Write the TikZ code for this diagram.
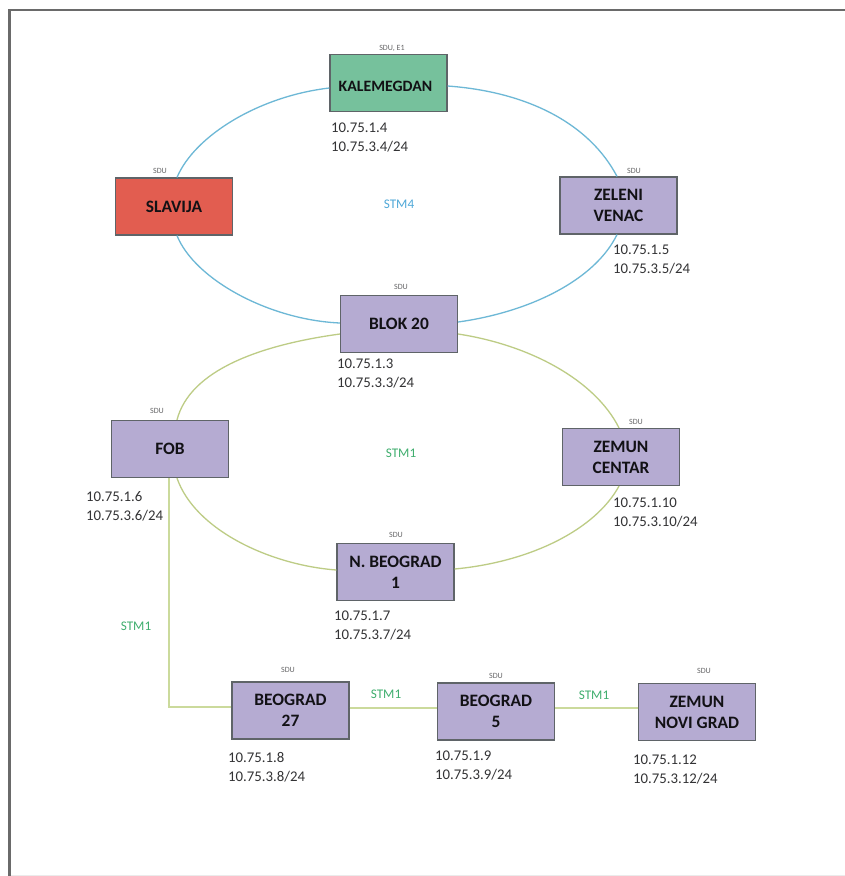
\documentclass[tikz,border=0pt]{standalone}
\usepackage{fontspec}
\setmainfont{Carlito}
\definecolor{purp}{HTML}{B5ABD2}
\definecolor{grn}{HTML}{76C19C}
\definecolor{rd}{HTML}{E25D50}
\definecolor{edgeg}{HTML}{5F6468}
\definecolor{ringb}{HTML}{6DB8D6}
\definecolor{ringg}{HTML}{BDCC85}
\definecolor{lineg}{HTML}{CBDA9C}
\definecolor{lblb}{HTML}{4FA8D8}
\definecolor{lblg}{HTML}{3FAE6E}
\definecolor{txt}{HTML}{333335}
\definecolor{frameg}{HTML}{6A6A6A}
\tikzset{
 x=1pt,y=-1pt,
 site/.style={draw=edgeg,line width=1.2pt,minimum width=117pt,minimum height=57pt,inner sep=0pt,align=center,font=\fontsize{17.4}{21}\selectfont\bfseries,text=black!90!purp},
 lowered/.style={execute at begin node={\rule{0pt}{17pt}}},
 vio/.style={site,fill=purp},
 sdu/.style={font=\fontsize{8}{9}\selectfont,text=txt!75},
 ip/.style={font=\fontsize{14.8}{19}\selectfont,text=txt,align=left,anchor=north west,inner sep=0pt},
 stm/.style={font=\fontsize{13.2}{15}\selectfont},
 blue ring/.style={draw=ringb,line width=1.3pt},
 green ring/.style={draw=ringg,line width=1.3pt},
 green line/.style={draw=lineg,line width=1.6pt},
}
\begin{document}
\begin{tikzpicture}
\useasboundingbox (0,0) rectangle (845,876);
\fill[white] (0,0) rectangle (845,876);
\draw[draw=black!8,line width=0.8pt] (9.5,875.5) -- (845,875.5);
\draw[draw=frameg,line width=2.4pt] (9.5,876) -- (9.5,10) -- (845,10);
% nodes
\node[site,fill=grn,font=\fontsize{15.8}{21}\selectfont\bfseries,execute at begin node={\rule{0pt}{16.5pt}}] (kal) at (388.5,83) {KALEMEGDAN\hspace*{6pt}};
\node[site,fill=rd] (sla) at (174,206.5) {SLAVIJA};
\node[vio,lowered] (zel) at (618.5,205.5) {ZELENI\\VENAC};
\node[vio] (blok) at (399,324) {BLOK 20};
\node[vio] (fob) at (170,449) {FOB};
\node[vio,lowered] (zc) at (621,457) {ZEMUN\\CENTAR};
\node[vio] (nb) at (395.5,572) {N. BEOGRAD\\1};
\node[vio,lowered] (b27) at (290.5,710.5) {BEOGRAD\\27\hspace*{0pt}};
\node[vio,lowered] (b5) at (496,711.5) {BEOGRAD\\5};
\node[vio,lowered] (zng) at (697,712) {ZEMUN\\NOVI GRAD};
\coordinate (corner) at (169,707);
% rings
\path[blue ring] (kal.west |- 0,88) .. controls (260,96) and (195,135) .. (sla.north -| 177,0);
\path[blue ring] (kal.east |- 0,86) .. controls (530,92) and (590,125) .. (zel.north -| 617,0);
\path[blue ring] (sla.south -| 177,0) .. controls (195,280) and (270,320) .. (blok.west |- 0,323);
\path[blue ring] (zel.south -| 617,0) .. controls (595,280) and (530,312) .. (blok.east |- 0,322);
\path[green ring] (blok.west |- 0,334) .. controls (260,345) and (190,370) .. (fob.north -| 177,0);
\path[green ring] (blok.east |- 0,334) .. controls (530,345) and (595,380) .. (zc.north -| 619,0);
\path[green ring] (fob.south -| 177,0) .. controls (195,530) and (270,565) .. (nb.west |- 0,570);
\path[green ring] (zc.south -| 619,0) .. controls (595,530) and (530,562) .. (nb.east |- 0,569);
\path[green line] (fob.south -| corner) -- (corner) -- (b27.west |- corner);
\path[green line] (b27.east |- 0,708) -- (b5.west |- 0,708);
\path[green line] (b5.east |- 0,708) -- (zng.west |- 0,708);
% sdu
\node[sdu] (s1) at (392,48) {SDU, E1};
\node[sdu] (s2) at (160,171) {SDU};
\node[sdu] (s3) at (634,171) {SDU};
\node[sdu] (s4) at (401,287) {SDU};
\node[sdu] (s5) at (157,411) {SDU};
\node[sdu] (s6) at (636,422) {SDU};
\node[sdu] (s7) at (396,535) {SDU};
\node[sdu] (s8) at (288,670) {SDU};
\node[sdu] (s9) at (496,676) {SDU};
\node[sdu] (s10) at (704,671) {SDU};
% ips
\node[ip] (i1) at (331,123) {10.75.1.4\\10.75.3.4/24};
\node[ip] (i2) at (613,244.5) {10.75.1.5\\10.75.3.5/24};
\node[ip] (i3) at (337,358.5) {10.75.1.3\\10.75.3.3/24};
\node[ip] (i4) at (86,491.5) {10.75.1.6\\10.75.3.6/24};
\node[ip] (i5) at (613,497.5) {10.75.1.10\\10.75.3.10/24};
\node[ip] (i6) at (334,610.5) {10.75.1.7\\10.75.3.7/24};
\node[ip] (i7) at (228,752.5) {10.75.1.8\\10.75.3.8/24};
\node[ip] (i8) at (435,750.5) {10.75.1.9\\10.75.3.9/24};
\node[ip] (i9) at (633,754.5) {10.75.1.12\\10.75.3.12/24};
% stm
\node[stm,text=lblb] (t1) at (399,204) {STM4};
\node[stm,text=lblg] (t2) at (401,453) {STM1};
\node[stm,text=lblg] (t3) at (136,626) {STM1};
\node[stm,text=lblg] (t4) at (386,694) {STM1};
\node[stm,text=lblg] (t5) at (594,695) {STM1};
\end{tikzpicture}
\end{document}
